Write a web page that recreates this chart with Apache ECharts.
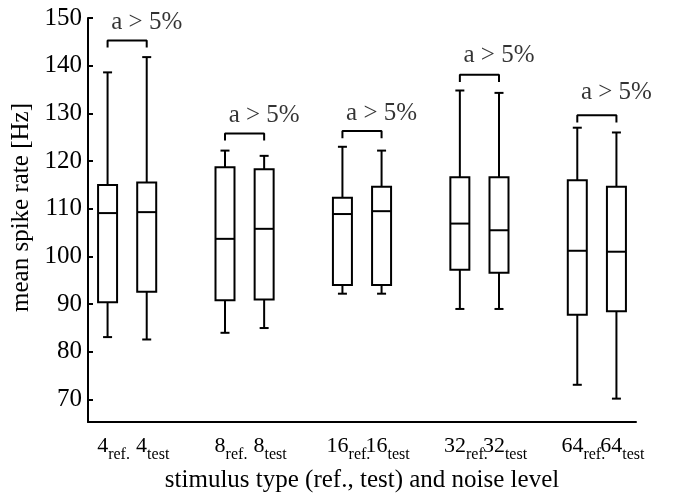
<!DOCTYPE html>
<html>
<head>
<meta charset="utf-8">
<script src="https://cdn.jsdelivr.net/npm/echarts@6/dist/echarts.min.js"></script>
<style>
    html, body { margin: 0; padding: 0; background: #fff; }
    #chart { width: 674px; height: 493px; }
</style>
</head>
<body>
<div id="chart"></div>
<script>
// noise levels and the two stimulus types of each pair
var noiseLevels = ['4', '8', '16', '32', '64'];
var stimTypes = ['ref.', 'test'];

// box statistics, in the order 4ref, 4test, 8ref, 8test, ... 64test
var whiskerLow  = [83.1, 82.6, 84.0, 85.0, 92.2, 92.2, 89.0, 89.0, 73.1, 70.2];
var quart1      = [90.4, 92.6, 90.8, 91.0, 94.0, 94.0, 97.2, 96.6, 87.8, 88.5];
var medians     = [109.1, 109.3, 103.7, 105.8, 108.9, 109.5, 106.9, 105.5, 101.2, 101.0];
var quart3      = [115.0, 115.5, 118.7, 118.3, 112.3, 114.6, 116.6, 116.6, 116.0, 114.6];
var whiskerHigh = [138.6, 141.8, 122.2, 121.1, 123.0, 122.2, 134.8, 134.3, 127.0, 126.0];

// significance brackets above each pair
var bracketLevel = [145.3, 125.8, 126.3, 138.1, 129.6];
var bracketText = ['a > 5%', 'a > 5%', 'a > 5%', 'a > 5%', 'a > 5%'];
var textLevel = [149.0, 129.6, 130.0, 142.1, 134.4];
var textShift = [0.2, 0, 0, 0, 0];

var yTicks = [70, 80, 90, 100, 110, 120, 130, 140, 150];

var serif = 'Liberation Serif';

// category slots: ref, test, empty gap, ref, test, gap, ...
var categories = [];
var boxData = [];
var k = 0;
for (var g = 0; g < noiseLevels.length; g++) {
    if (g > 0) categories.push('');
    for (var s = 0; s < stimTypes.length; s++) {
        categories.push(noiseLevels[g] + '|' + stimTypes[s]);
        boxData.push([categories.length - 1, whiskerLow[k], quart1[k], medians[k], quart3[k], whiskerHigh[k]]);
        k++;
    }
}

var hook = 1.5;
var series = [];

series.push({
    type: 'custom',
    clip: false,
    data: boxData,
    renderItem: function (params, api) {
        var x = api.value(0);
        var pLow = api.coord([x, api.value(1)]);
        var pQ1 = api.coord([x, api.value(2)]);
        var pMed = api.coord([x, api.value(3)]);
        var pQ3 = api.coord([x, api.value(4)]);
        var pHigh = api.coord([x, api.value(5)]);
        var cx = pLow[0];
        var hw = 9.5, cw = 4.5;
        var st = {stroke: '#000', lineWidth: 2, fill: null};
        return {
            type: 'group',
            children: [
                {type: 'line', shape: {x1: cx, y1: pHigh[1], x2: cx, y2: pQ3[1]}, style: st},
                {type: 'line', shape: {x1: cx, y1: pQ1[1], x2: cx, y2: pLow[1]}, style: st},
                {type: 'line', shape: {x1: cx - cw, y1: pHigh[1], x2: cx + cw, y2: pHigh[1]}, style: st},
                {type: 'line', shape: {x1: cx - cw, y1: pLow[1], x2: cx + cw, y2: pLow[1]}, style: st},
                {type: 'rect', shape: {x: cx - hw, y: pQ3[1], width: hw * 2, height: pQ1[1] - pQ3[1]}, style: {stroke: '#000', lineWidth: 2, fill: '#fff'}},
                {type: 'line', shape: {x1: cx - hw, y1: pMed[1], x2: cx + hw, y2: pMed[1]}, style: st}
            ]
        };
    }
});

var textData = [];
for (var i = 0; i < noiseLevels.length; i++) {
    var xr = i * 3, xt = i * 3 + 1;
    series.push({
        type: 'line',
        symbol: 'none',
        silent: true,
        lineStyle: {color: '#000', width: 2},
        data: [
            [xr, bracketLevel[i] - hook],
            [xr, bracketLevel[i]],
            [xt, bracketLevel[i]],
            [xt, bracketLevel[i] - hook]
        ]
    });
    textData.push({value: [xr + 0.5 + textShift[i], textLevel[i]], name: bracketText[i]});
}

series.push({
    type: 'scatter',
    symbolSize: 1,
    itemStyle: {color: 'rgba(0,0,0,0)'},
    data: textData,
    label: {
        show: true,
        position: 'inside',
        formatter: '{b}',
        color: '#000',
        fontFamily: serif,
        fontSize: 25
    }
});

var myChart = echarts.init(document.getElementById('chart'));

var option = {
    animation: false,
    backgroundColor: '#fff',
    grid: {left: 88, right: 38, top: 18, bottom: 71, containLabel: false, outerBoundsMode: 'none'},
    xAxis: {
        type: 'category',
        data: categories,
        boundaryGap: true,
        name: 'stimulus type (ref., test) and noise level',
        nameLocation: 'middle',
        nameGap: 45,
        nameTextStyle: {color: '#000', fontFamily: serif, fontSize: 25},
        axisLine: {lineStyle: {color: '#000', width: 2}},
        axisTick: {
            inside: true,
            length: 5,
            alignWithLabel: true,
            interval: function (idx, val) { return val !== ''; },
            lineStyle: {color: '#000', width: 2}
        },
        axisLabel: {
            interval: 0,
            margin: 13,
            formatter: function (val) {
                if (!val) return '';
                var parts = val.split('|');
                return '{pad|}{n|' + parts[0] + '}{s|' + parts[1] + '}';
            },
            rich: {
                pad: {width: 12},
                n: {fontFamily: serif, fontSize: 22, color: '#000', verticalAlign: 'top'},
                s: {fontFamily: serif, fontSize: 16, color: '#000', verticalAlign: 'bottom', padding: [12, 0, 0, 0]}
            }
        },
        splitLine: {show: false}
    },
    yAxis: {
        type: 'value',
        min: 65.3,
        max: 150,
        name: 'mean spike rate [Hz]',
        nameLocation: 'middle',
        nameGap: 49,
        nameRotate: 90,
        nameTextStyle: {color: '#000', fontFamily: serif, fontSize: 25, padding: [0, 0, 0, 25]},
        axisLine: {show: true, lineStyle: {color: '#000', width: 2}},
        axisTick: {
            show: true,
            inside: true,
            length: 5,
            customValues: yTicks,
            lineStyle: {color: '#000', width: 2}
        },
        axisLabel: {
            customValues: yTicks,
            margin: 6,
            color: '#000',
            fontFamily: serif,
            fontSize: 25
        },
        splitLine: {show: false}
    },
    series: series
};

myChart.setOption(option);
</script>
</body>
</html>
